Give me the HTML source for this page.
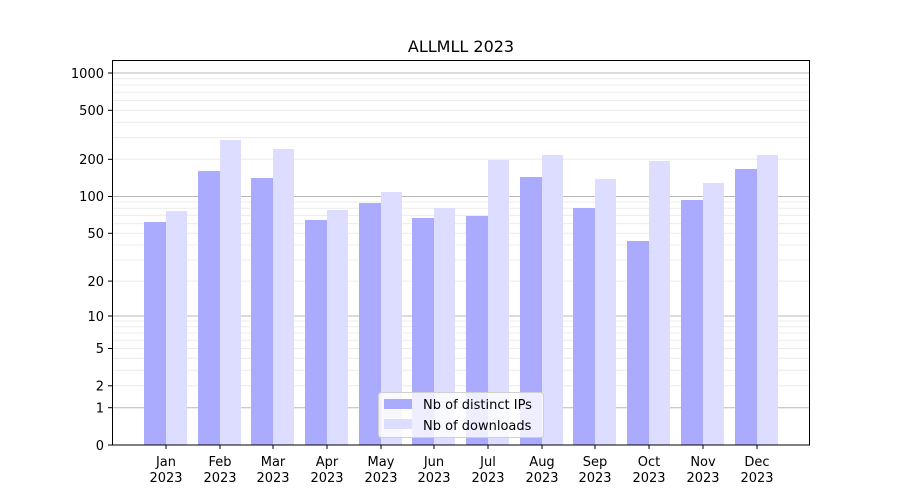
<!DOCTYPE html>
<html><head><style>body{margin:0;background:#fff}svg{display:block}text{font-family:"DejaVu Sans","Liberation Sans",sans-serif;font-size:13px;fill:#000}</style></head><body>
<svg width="900" height="500" xmlns="http://www.w3.org/2000/svg">
<text x="461" y="52" text-anchor="middle" font-size="16" style="font-size:16px">ALLMLL 2023</text>
<g stroke="#ececec" stroke-width="1">
<line x1="112" x2="810" y1="385.8" y2="385.8"/><line x1="112" x2="810" y1="370.3" y2="370.3"/><line x1="112" x2="810" y1="358.3" y2="358.3"/><line x1="112" x2="810" y1="348.5" y2="348.5"/><line x1="112" x2="810" y1="340.2" y2="340.2"/><line x1="112" x2="810" y1="333" y2="333"/><line x1="112" x2="810" y1="326.7" y2="326.7"/><line x1="112" x2="810" y1="321" y2="321"/>
<line x1="112" x2="810" y1="281.1" y2="281.1"/><line x1="112" x2="810" y1="260" y2="260"/><line x1="112" x2="810" y1="245" y2="245"/><line x1="112" x2="810" y1="233.3" y2="233.3"/><line x1="112" x2="810" y1="223.6" y2="223.6"/><line x1="112" x2="810" y1="215.4" y2="215.4"/><line x1="112" x2="810" y1="208.3" y2="208.3"/><line x1="112" x2="810" y1="202" y2="202"/>
<line x1="112" x2="810" y1="159.3" y2="159.3"/><line x1="112" x2="810" y1="137.8" y2="137.8"/><line x1="112" x2="810" y1="122.3" y2="122.3"/><line x1="112" x2="810" y1="110.3" y2="110.3"/><line x1="112" x2="810" y1="100.5" y2="100.5"/><line x1="112" x2="810" y1="92.2" y2="92.2"/><line x1="112" x2="810" y1="85" y2="85"/><line x1="112" x2="810" y1="78.7" y2="78.7"/>
</g>
<g stroke="#b8b8b8" stroke-width="1">
<line x1="112" x2="810" y1="407.7" y2="407.7"/><line x1="112" x2="810" y1="316" y2="316"/><line x1="112" x2="810" y1="196.5" y2="196.5"/><line x1="112" x2="810" y1="73" y2="73"/>
</g>
<g fill="#aaaaff">
<rect x="144" y="222" width="22" height="223"/><rect x="198" y="171" width="22" height="274"/><rect x="251" y="178" width="22" height="267"/><rect x="305" y="220" width="22" height="225"/><rect x="359" y="203" width="22" height="242"/><rect x="412" y="218" width="22" height="227"/><rect x="466" y="216" width="22" height="229"/><rect x="520" y="177" width="22" height="268"/><rect x="573" y="208" width="22" height="237"/><rect x="627" y="241" width="22" height="204"/><rect x="681" y="200" width="22" height="245"/><rect x="735" y="169" width="22" height="276"/>
</g>
<g fill="#ddddff">
<rect x="166" y="211" width="21" height="234"/><rect x="220" y="140" width="21" height="305"/><rect x="273" y="149" width="21" height="296"/><rect x="327" y="210" width="21" height="235"/><rect x="381" y="192" width="21" height="253"/><rect x="434" y="208" width="21" height="237"/><rect x="488" y="160" width="21" height="285"/><rect x="542" y="155" width="21" height="290"/><rect x="595" y="179" width="21" height="266"/><rect x="649" y="161" width="21" height="284"/><rect x="703" y="183" width="21" height="262"/><rect x="757" y="155" width="21" height="290"/>
</g>
<rect x="112.5" y="60.5" width="697" height="384.5" fill="none" stroke="#000" stroke-width="1"/>
<g stroke="#000">
<line x1="108" x2="112" y1="445" y2="445"/><line x1="108" x2="112" y1="407.7" y2="407.7"/><line x1="108" x2="112" y1="385.8" y2="385.8"/><line x1="108" x2="112" y1="348.5" y2="348.5"/><line x1="108" x2="112" y1="316" y2="316"/><line x1="108" x2="112" y1="281.1" y2="281.1"/><line x1="108" x2="112" y1="233.3" y2="233.3"/><line x1="108" x2="112" y1="196.5" y2="196.5"/><line x1="108" x2="112" y1="159.3" y2="159.3"/><line x1="108" x2="112" y1="110.3" y2="110.3"/><line x1="108" x2="112" y1="73" y2="73"/>
</g>
<g text-anchor="end">
<text x="104" y="450">0</text><text x="104" y="412.5">1</text><text x="104" y="390.5">2</text><text x="104" y="353">5</text><text x="104" y="321">10</text><text x="104" y="286">20</text><text x="104" y="238">50</text><text x="104" y="201">100</text><text x="104" y="164">200</text><text x="104" y="115">500</text><text x="104" y="78">1000</text>
</g>
<g stroke="#000">
<line x1="166" x2="166" y1="445" y2="449"/><line x1="220" x2="220" y1="445" y2="449"/><line x1="273" x2="273" y1="445" y2="449"/><line x1="327" x2="327" y1="445" y2="449"/><line x1="381" x2="381" y1="445" y2="449"/><line x1="434" x2="434" y1="445" y2="449"/><line x1="488" x2="488" y1="445" y2="449"/><line x1="542" x2="542" y1="445" y2="449"/><line x1="595" x2="595" y1="445" y2="449"/><line x1="649" x2="649" y1="445" y2="449"/><line x1="703" x2="703" y1="445" y2="449"/><line x1="757" x2="757" y1="445" y2="449"/>
</g>
<g text-anchor="middle">
<text x="166" y="466">Jan</text><text x="166" y="482">2023</text>
<text x="220" y="466">Feb</text><text x="220" y="482">2023</text>
<text x="273" y="466">Mar</text><text x="273" y="482">2023</text>
<text x="327" y="466">Apr</text><text x="327" y="482">2023</text>
<text x="381" y="466">May</text><text x="381" y="482">2023</text>
<text x="434" y="466">Jun</text><text x="434" y="482">2023</text>
<text x="488" y="466">Jul</text><text x="488" y="482">2023</text>
<text x="542" y="466">Aug</text><text x="542" y="482">2023</text>
<text x="595" y="466">Sep</text><text x="595" y="482">2023</text>
<text x="649" y="466">Oct</text><text x="649" y="482">2023</text>
<text x="703" y="466">Nov</text><text x="703" y="482">2023</text>
<text x="757" y="466">Dec</text><text x="757" y="482">2023</text>
</g>
<rect x="378.5" y="392.5" width="165" height="45" rx="3" fill="#fff" fill-opacity="0.8" stroke="#d0d0d0"/>
<rect x="384" y="399" width="28" height="10" fill="#aaaaff"/>
<rect x="384" y="419" width="28" height="10" fill="#ddddff"/>
<text x="423" y="409">Nb of distinct IPs</text>
<text x="423" y="430">Nb of downloads</text>
</svg>
</body></html>
